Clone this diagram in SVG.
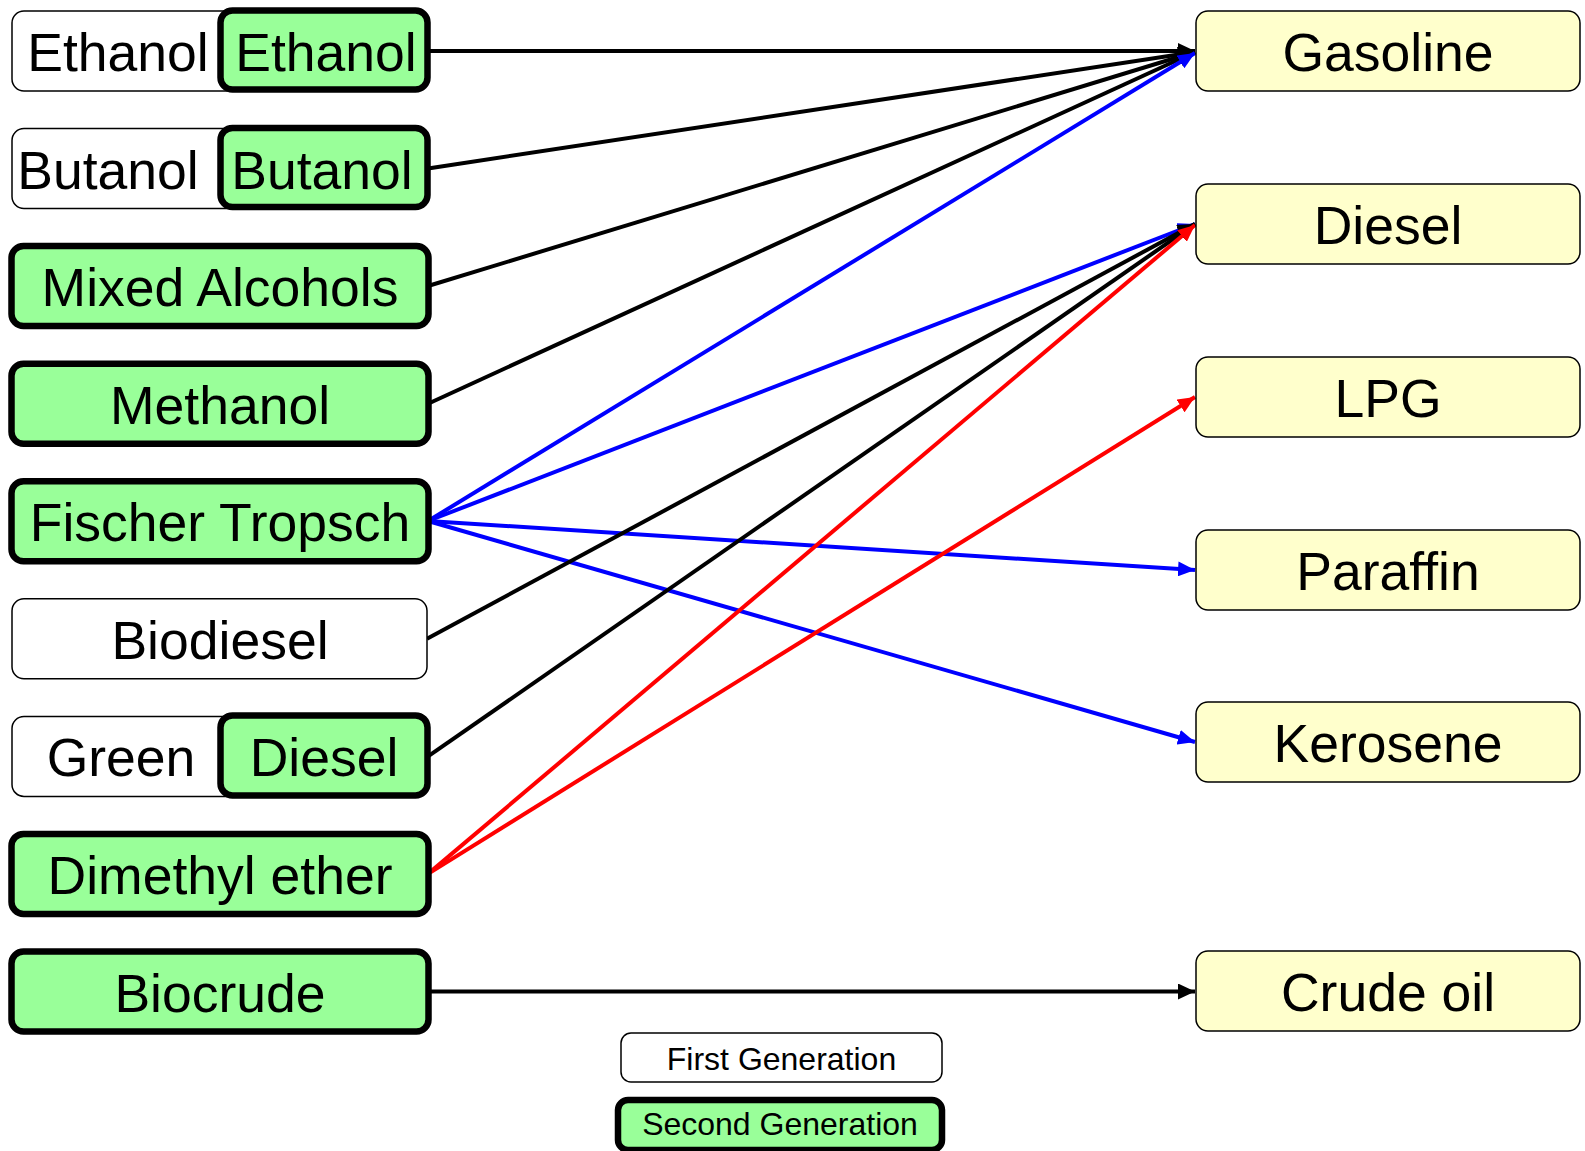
<svg xmlns="http://www.w3.org/2000/svg" width="1585" height="1151" viewBox="0 0 1585 1151">
<style>
  text { font-family: "Liberation Sans", Arial, sans-serif; fill: #000; text-anchor: middle; }
  .big { font-size: 53.5px; }
  .leg { font-size: 32px; }
  .first { fill: #ffffff; stroke: #000; stroke-width: 1.5; }
  .second { fill: #99ff99; stroke: #000; stroke-width: 6.5; }
  .prod { fill: #ffffcc; stroke: #000; stroke-width: 1.5; }
  .cb { stroke: #000; stroke-width: 4; fill: none; marker-end: url(#ab); }
  .cu { stroke: #0000ff; stroke-width: 4; fill: none; marker-end: url(#au); }
  .cr { stroke: #ff0000; stroke-width: 4; fill: none; marker-end: url(#ar); }
</style>
<defs>
  <marker id="ab" markerUnits="userSpaceOnUse" markerWidth="18" markerHeight="16" refX="17" refY="8" orient="auto"><path d="M0,0 L17,8 L0,16 z" fill="#000"/></marker>
  <marker id="au" markerUnits="userSpaceOnUse" markerWidth="18" markerHeight="15" refX="17" refY="7.5" orient="auto"><path d="M0,0 L17,7.5 L0,15 z" fill="#0000ff"/></marker>
  <marker id="ar" markerUnits="userSpaceOnUse" markerWidth="18" markerHeight="15" refX="17" refY="7.5" orient="auto"><path d="M0,0 L17,7.5 L0,15 z" fill="#ff0000"/></marker>
</defs>
<rect width="1585" height="1151" fill="#ffffff"/>
<g id="connectors">
  <line class="cb" x1="428" y1="51" x2="1195" y2="51"/>
  <line class="cb" x1="428" y1="168.5" x2="1195" y2="52"/>
  <line class="cb" x1="428" y1="286" x2="1195" y2="52"/>
  <line class="cb" x1="428" y1="403.7" x2="1195" y2="52"/>
  <line class="cu" x1="428" y1="521" x2="1195" y2="53"/>
  <line class="cu" x1="428" y1="521" x2="1195" y2="224"/>
  <line class="cu" x1="428" y1="521" x2="1195" y2="570"/>
  <line class="cu" x1="428" y1="521" x2="1195" y2="742"/>
  <line class="cb" x1="427" y1="638.8" x2="1195" y2="224"/>
  <line class="cb" x1="428" y1="756.4" x2="1195" y2="224"/>
  <line class="cr" x1="428" y1="873.9" x2="1195" y2="225"/>
  <line class="cr" x1="428" y1="873.9" x2="1195" y2="397"/>
  <line class="cb" x1="428" y1="991.5" x2="1195" y2="991.5"/>
</g>
<g id="node-ethanol">
  <rect class="first" x="12" y="11" width="415" height="80" rx="12"/>
  <text class="big" x="118" y="71">Ethanol</text>
  <rect class="second" x="220.5" y="10.5" width="207" height="79" rx="12"/>
  <text class="big" x="326" y="71">Ethanol</text>
</g>
<g id="node-butanol">
  <rect class="first" x="12" y="128.5" width="415" height="80" rx="12"/>
  <text class="big" x="108" y="188.5">Butanol</text>
  <rect class="second" x="220.5" y="128" width="207" height="79" rx="12"/>
  <text class="big" x="322" y="188.5">Butanol</text>
</g>
<g id="node-mixed-alcohols">
  <rect class="second" x="11.5" y="246" width="417" height="80" rx="12"/>
  <text class="big" x="220" y="306">Mixed Alcohols</text>
</g>
<g id="node-methanol">
  <rect class="second" x="11.5" y="363.7" width="417" height="80" rx="12"/>
  <text class="big" x="220" y="423.7">Methanol</text>
</g>
<g id="node-fischer-tropsch">
  <rect class="second" x="11.5" y="481.2" width="417" height="80" rx="12"/>
  <text class="big" x="220" y="541.2">Fischer Tropsch</text>
</g>
<g id="node-biodiesel">
  <rect class="first" x="12" y="598.8" width="415" height="80" rx="12"/>
  <text class="big" x="220" y="658.8">Biodiesel</text>
</g>
<g id="node-green-diesel">
  <rect class="first" x="12" y="716.4" width="415" height="80" rx="12"/>
  <text class="big" x="121" y="776.4">Green</text>
  <rect class="second" x="220.5" y="715.4" width="207" height="80" rx="12"/>
  <text class="big" x="324" y="776.4">Diesel</text>
</g>
<g id="node-dimethyl-ether">
  <rect class="second" x="11.5" y="833.9" width="417" height="80" rx="12"/>
  <text class="big" x="220" y="893.9">Dimethyl ether</text>
</g>
<g id="node-biocrude">
  <rect class="second" x="11.5" y="951.5" width="417" height="80" rx="12"/>
  <text class="big" x="220" y="1011.5">Biocrude</text>
</g>
<g id="node-gasoline">
  <rect class="prod" x="1196" y="11" width="384" height="80" rx="12"/>
  <text class="big" x="1388" y="71">Gasoline</text>
</g>
<g id="node-diesel">
  <rect class="prod" x="1196" y="184" width="384" height="80" rx="12"/>
  <text class="big" x="1388" y="244">Diesel</text>
</g>
<g id="node-lpg">
  <rect class="prod" x="1196" y="357" width="384" height="80" rx="12"/>
  <text class="big" x="1388" y="417">LPG</text>
</g>
<g id="node-paraffin">
  <rect class="prod" x="1196" y="530" width="384" height="80" rx="12"/>
  <text class="big" x="1388" y="590">Paraffin</text>
</g>
<g id="node-kerosene">
  <rect class="prod" x="1196" y="702" width="384" height="80" rx="12"/>
  <text class="big" x="1388" y="762">Kerosene</text>
</g>
<g id="node-crude-oil">
  <rect class="prod" x="1196" y="951" width="384" height="80" rx="12"/>
  <text class="big" x="1388" y="1011">Crude oil</text>
</g>
<g id="legend-first">
  <rect class="first" x="621" y="1033" width="321" height="49" rx="10"/>
  <text class="leg" x="781.5" y="1070">First Generation</text>
</g>
<g id="legend-second">
  <rect class="second" x="618" y="1100" width="324" height="50" rx="10"/>
  <text class="leg" x="780" y="1135">Second Generation</text>
</g>
</svg>
